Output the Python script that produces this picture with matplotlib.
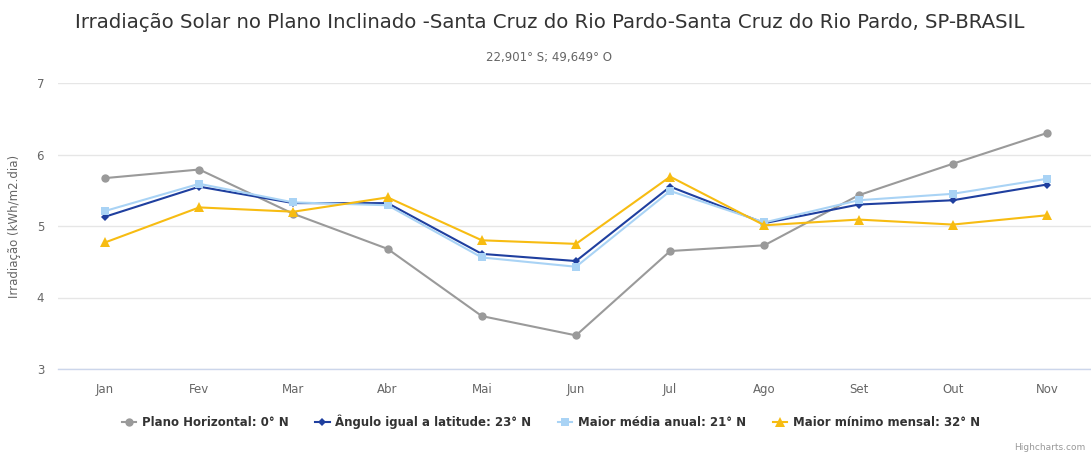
import matplotlib
matplotlib.use("Agg")
import matplotlib.pyplot as plt
from matplotlib.lines import Line2D

months = ["Jan", "Fev", "Mar", "Abr", "Mai", "Jun", "Jul", "Ago", "Set", "Out", "Nov"]
plano_horizontal = [5.67, 5.79, 5.17, 4.68, 3.74, 3.47, 4.65, 4.73, 5.43, 5.87, 6.30]
angulo_latitude = [5.13, 5.55, 5.32, 5.32, 4.61, 4.51, 5.55, 5.04, 5.30, 5.36, 5.58]
maior_media = [5.21, 5.59, 5.33, 5.29, 4.56, 4.43, 5.49, 5.05, 5.36, 5.45, 5.66]
maior_minimo = [4.77, 5.26, 5.20, 5.40, 4.80, 4.75, 5.69, 5.01, 5.09, 5.02, 5.15]
series_labels = ["Plano Horizontal: 0° N", "Ângulo igual a latitude: 23° N",
                 "Maior média anual: 21° N", "Maior mínimo mensal: 32° N"]
yticks = [3, 4, 5, 6, 7]

colors = ["#9a9a9a", "#1f3f9f", "#a9d3f5", "#f7bc12"]
markers = ["o", "D", "s", "^"]
msizes = [6.0, 4.2, 6.0, 6.5]

W, H = 1091, 454
fig = plt.figure(figsize=(W / 100, H / 100), dpi=100)
left, right, top, bottom = 58, 1091, 83, 369
ax = fig.add_axes([left / W, (H - bottom) / H, (right - left) / W, (bottom - top) / H])

x = list(range(len(months)))
all_series = [plano_horizontal, angulo_latitude, maior_media, maior_minimo]
for s, c, m, ms, lab in zip(all_series, colors, markers, msizes, series_labels):
    ax.plot(x, s, color=c, marker=m, markersize=ms, linewidth=1.5, label=lab,
            markeredgewidth=0, zorder=3)

ax.set_ylim(3, 7)
ax.set_xlim(-0.5, 10.5 - (1094 - 1091) / 94.2)
ax.set_yticks(yticks)
ax.set_xticks(x)
ax.set_xticklabels(months)
ax.grid(axis="y", color="#e6e6e6", linewidth=1)
ax.set_axisbelow(True)
for sp in ["top", "right", "left"]:
    ax.spines[sp].set_visible(False)
ax.spines["bottom"].set_color("#ccd6eb")
ax.spines["bottom"].set_linewidth(1)
ax.tick_params(axis="both", length=0, labelsize=8.5, colors="#666666")
ax.tick_params(axis="x", pad=10)
ax.tick_params(axis="y", pad=10)
ax.set_ylabel("Irradiação (kWh/m2.dia)", fontsize=8.5, color="#666666", labelpad=11)

fig.text(550 / W, 1 - 22 / H, "Irradiação Solar no Plano Inclinado -Santa Cruz do Rio Pardo-Santa Cruz do Rio Pardo, SP-BRASIL",
         ha="center", va="center", fontsize=14.2, color="#333333")
fig.text(549 / W, 1 - 57 / H, "22,901° S; 49,649° O", ha="center", va="center",
         fontsize=8.5, color="#666666")

handles = [Line2D([0], [0], color=c, marker=m, markersize=ms, linewidth=1.5, markeredgewidth=0)
           for c, m, ms in zip(colors, markers, msizes)]
leg = fig.legend(handles, series_labels, loc="center", bbox_to_anchor=(551 / W, 1 - 422 / H),
                 ncol=4, frameon=False, fontsize=8.5, handlelength=1.2, handletextpad=0.5,
                 columnspacing=2.25)
for t in leg.get_texts():
    t.set_fontweight("bold")
    t.set_color("#333333")

fig.text(1085 / W, 1 - 447 / H, "Highcharts.com", ha="right", va="center", fontsize=6.5, color="#999999")

fig.savefig("out.png", dpi=100)
